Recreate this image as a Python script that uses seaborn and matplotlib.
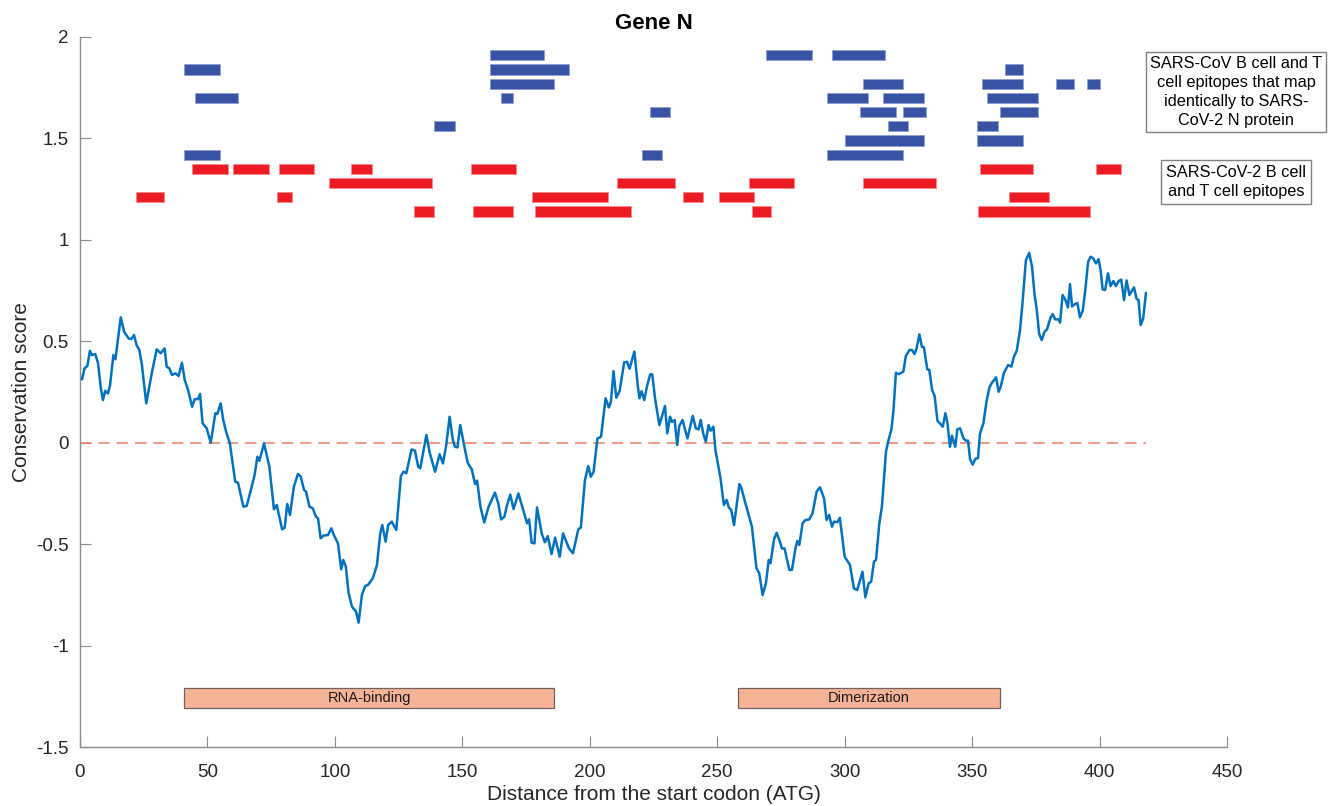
import numpy as np
import pandas as pd
import matplotlib
matplotlib.use("Agg")
import matplotlib.pyplot as plt
import seaborn as sns

# ---- conservation score along the N gene (residue position, score) ----
pos = [
    0.8, 1.8, 2.9, 3.9, 4.7, 6.0, 7.1, 8.1, 9.0, 9.9, 11.0, 11.8, 13.1, 13.9, 16.0, 17.3,
    19.1, 20.1, 21.2, 22.2, 23.3, 24.3, 26.0, 28.2, 30.1, 31.7, 33.2, 34.0, 35.0, 36.1,
    37.4, 38.7, 40.0, 41.1, 42.4, 44.0, 45.0, 46.3, 47.1, 48.1, 49.7, 51.3, 53.1, 53.9,
    55.2, 56.2, 57.5, 58.8, 60.9, 62.0, 64.1, 65.4, 67.2, 68.5, 69.6, 70.4, 72.2, 74.3,
    76.1, 77.2, 79.3, 80.3, 81.3, 82.4, 83.9, 85.5, 86.6, 87.9, 88.7, 90.0, 91.3, 92.6,
    93.4, 94.4, 95.5, 97.3, 98.6, 99.6, 101.2, 102.5, 103.3, 104.3, 105.4, 106.7, 108.3,
    109.3, 110.6, 111.9, 113.0, 114.9, 116.5, 117.8, 118.6, 119.9, 120.9, 122.3, 124.1,
    125.9, 126.9, 128.0, 130.1, 131.4, 132.7, 133.5, 135.9, 137.2, 139.3, 141.1, 142.4,
    143.7, 145.0, 146.3, 147.1, 148.1, 149.2, 150.8, 152.1, 153.7, 155.0, 155.8, 157.1,
    158.6, 160.2, 162.8, 164.1, 165.2, 166.5, 167.5, 168.8, 170.1, 172.0, 173.6, 175.4,
    176.2, 177.2, 178.3, 179.3, 181.2, 182.4, 183.5, 185.0, 186.4, 188.2, 189.5, 191.8,
    193.4, 195.5, 196.5, 198.1, 199.4, 200.4, 201.5, 203.0, 204.4, 206.2, 207.5, 208.3,
    209.3, 210.4, 211.7, 213.5, 214.6, 215.6, 217.5, 218.8, 219.5, 220.3, 221.4, 222.4,
    223.7, 224.5, 225.6, 227.3, 229.5, 230.4, 231.5, 232.2, 233.3, 234.3, 235.1, 236.4,
    238.3, 240.4, 241.6, 242.7, 243.5, 244.5, 245.5, 246.6, 247.4, 248.5, 249.3, 251.3,
    252.6, 253.7, 254.5, 255.5, 256.6, 258.7, 259.4, 261.0, 262.0, 263.6, 265.4, 266.5,
    267.8, 269.1, 270.2, 270.9, 272.3, 273.3, 274.6, 275.4, 276.4, 278.3, 279.3, 280.7,
    281.4, 282.2, 283.5, 284.6, 286.1, 287.4, 289.0, 290.3, 291.9, 292.9, 293.9, 295.0,
    295.8, 297.1, 298.1, 300.0, 302.1, 303.6, 304.9, 307.0, 308.1, 309.4, 310.4, 311.5,
    312.3, 313.6, 314.6, 316.2, 317.2, 318.3, 319.1, 320.1, 321.2, 323.0, 324.0, 325.4,
    326.4, 327.4, 328.2, 329.3, 330.3, 331.1, 332.4, 333.2, 334.3, 335.3, 336.4, 337.4,
    338.5, 339.5, 340.3, 341.3, 342.1, 343.4, 344.2, 345.3, 346.6, 347.6, 348.4, 349.2,
    350.2, 351.3, 352.3, 353.1, 354.4, 355.7, 356.8, 357.8, 359.4, 360.4, 361.2, 362.5,
    364.1, 365.4, 366.4, 367.5, 368.8, 369.8, 371.1, 372.4, 373.5, 374.5, 375.3, 376.3,
    377.3, 378.4, 379.4, 380.8, 381.6, 382.6, 383.9, 384.5, 385.5, 386.6, 387.6, 388.4,
    389.2, 390.5, 391.3, 392.3, 393.4, 394.4, 395.5, 396.5, 397.5, 398.6, 399.6, 400.4,
    401.2, 402.2, 403.3, 404.3, 405.4, 406.4, 407.5, 408.5, 409.6, 410.6, 411.7, 413.5,
    414.5, 415.3, 416.1, 417.1, 418.2,
]
score = [
    0.312, 0.367, 0.378, 0.453, 0.432, 0.437, 0.391, 0.276, 0.210, 0.256, 0.243, 0.284,
    0.432, 0.411, 0.618, 0.547, 0.514, 0.511, 0.531, 0.481, 0.457, 0.383, 0.194, 0.345,
    0.460, 0.441, 0.465, 0.375, 0.367, 0.334, 0.342, 0.329, 0.394, 0.309, 0.260, 0.177,
    0.215, 0.215, 0.240, 0.096, 0.071, 0.000, 0.145, 0.142, 0.194, 0.112, 0.046, -0.003,
    -0.192, -0.197, -0.315, -0.312, -0.225, -0.159, -0.069, -0.089, -0.003, -0.118,
    -0.328, -0.307, -0.427, -0.419, -0.302, -0.356, -0.217, -0.154, -0.167, -0.233,
    -0.241, -0.315, -0.323, -0.365, -0.373, -0.471, -0.458, -0.455, -0.422, -0.455,
    -0.496, -0.624, -0.578, -0.611, -0.742, -0.808, -0.833, -0.887, -0.751, -0.706,
    -0.701, -0.668, -0.603, -0.447, -0.406, -0.488, -0.406, -0.389, -0.430, -0.164,
    -0.143, -0.151, -0.033, -0.039, -0.118, -0.126, 0.038, -0.049, -0.143, -0.057,
    -0.102, -0.011, 0.128, 0.013, -0.020, -0.023, 0.087, -0.020, -0.099, -0.131, -0.204,
    -0.187, -0.315, -0.393, -0.319, -0.246, -0.299, -0.378, -0.365, -0.310, -0.256,
    -0.327, -0.250, -0.319, -0.397, -0.378, -0.493, -0.496, -0.319, -0.450, -0.491,
    -0.460, -0.549, -0.468, -0.562, -0.447, -0.520, -0.545, -0.427, -0.418, -0.184,
    -0.115, -0.168, -0.143, 0.021, 0.029, 0.219, 0.174, 0.202, 0.353, 0.222, 0.255,
    0.396, 0.399, 0.365, 0.449, 0.284, 0.219, 0.254, 0.210, 0.276, 0.337, 0.337, 0.219,
    0.087, 0.181, 0.046, 0.128, 0.103, 0.112, -0.011, 0.082, 0.112, 0.021, 0.132, 0.071,
    0.066, 0.112, 0.046, 0.005, 0.087, 0.059, 0.079, -0.036, -0.176, -0.307, -0.282,
    -0.318, -0.332, -0.406, -0.204, -0.220, -0.296, -0.340, -0.414, -0.619, -0.644,
    -0.751, -0.693, -0.578, -0.594, -0.476, -0.444, -0.488, -0.521, -0.521, -0.627,
    -0.627, -0.521, -0.484, -0.504, -0.397, -0.381, -0.378, -0.348, -0.241, -0.220,
    -0.274, -0.381, -0.356, -0.414, -0.389, -0.392, -0.370, -0.562, -0.603, -0.718,
    -0.726, -0.636, -0.762, -0.693, -0.685, -0.586, -0.578, -0.397, -0.315, -0.044,
    0.013, 0.063, 0.153, 0.345, 0.338, 0.350, 0.427, 0.457, 0.457, 0.437, 0.465, 0.534,
    0.473, 0.470, 0.362, 0.359, 0.260, 0.230, 0.108, 0.095, 0.079, 0.145, 0.099, -0.020,
    0.035, -0.020, 0.066, 0.071, 0.021, 0.010, 0.010, -0.082, -0.108, -0.079, -0.076,
    0.046, 0.095, 0.207, 0.273, 0.296, 0.322, 0.251, 0.275, 0.345, 0.383, 0.375, 0.424,
    0.453, 0.555, 0.695, 0.900, 0.936, 0.868, 0.728, 0.662, 0.536, 0.506, 0.547, 0.559,
    0.618, 0.634, 0.608, 0.608, 0.592, 0.728, 0.704, 0.667, 0.782, 0.672, 0.685, 0.688,
    0.618, 0.651, 0.753, 0.892, 0.917, 0.909, 0.884, 0.905, 0.851, 0.756, 0.753, 0.835,
    0.772, 0.797, 0.772, 0.797, 0.804, 0.703, 0.800, 0.728, 0.766, 0.710, 0.703, 0.580,
    0.612, 0.739,
]

# ---- SARS-CoV epitopes mapping identically to SARS-CoV-2 N (track level, start, end) ----
cov1_level = [1.91, 1.91, 1.91,
              1.84, 1.84, 1.84,
              1.77, 1.77, 1.77, 1.77, 1.77,
              1.70, 1.70, 1.70, 1.70, 1.70,
              1.63, 1.63, 1.63, 1.63,
              1.56, 1.56, 1.56,
              1.49, 1.49,
              1.42, 1.42, 1.42]
cov1_start = [161, 269, 295,
              41, 161, 363,
              161, 307, 354, 383, 395,
              45, 165, 293, 315, 356,
              223.5, 306, 323, 361,
              139, 317, 352,
              300, 352,
              41, 220.5, 293]
cov1_end = [182, 287, 316,
            55, 192, 370,
            186, 323, 370, 390, 400,
            62, 170, 309, 331, 376,
            231.5, 320, 332, 376,
            147, 325, 360,
            331, 370,
            55, 228.5, 323]

# ---- SARS-CoV-2 B cell and T cell epitopes ----
cov2_level = [1.35, 1.35, 1.35, 1.35, 1.35, 1.35, 1.35,
              1.28, 1.28, 1.28, 1.28,
              1.21, 1.21, 1.21, 1.21, 1.21, 1.21,
              1.14, 1.14, 1.14, 1.14, 1.14]
cov2_start = [44, 60, 78, 106.5, 153.5, 353, 398.5,
              97.5, 210.5, 262.5, 307,
              22, 77.3, 177.3, 236.4, 250.6, 364.3,
              131, 154.3, 178.4, 263.6, 352.4]
cov2_end = [58, 74, 92, 114.5, 171, 374, 408.5,
            138, 233.5, 280, 336,
            33, 83.3, 207.3, 244.4, 264.5, 380.3,
            139, 170, 216.3, 271, 396.2]

# ---- protein domains ----
domain_names = ["RNA-binding", "Dimerization"]
domain_start = [41, 258]
domain_end = [186, 361]
domain_level = -1.26

legend_cov1 = "SARS-CoV B cell and T\ncell epitopes that map\nidentically to SARS-\nCoV-2 N protein"
legend_cov2 = "SARS-CoV-2 B cell\nand T cell epitopes"

x_ticks = [0, 50, 100, 150, 200, 250, 300, 350, 400, 450]
y_ticks = [-1.5, -1, -0.5, 0, 0.5, 1, 1.5, 2]
y_tick_labels = ["-1.5", "-1", "-0.5", "0", "0.5", "1", "1.5", "2"]

sns.set_theme(style="white")
plt.rcParams["font.family"] = ["Liberation Sans", "DejaVu Sans"]
plt.rcParams["axes.unicode_minus"] = False

fig = plt.figure(figsize=(13.33, 8.06), dpi=100)
ax = fig.add_axes([0.0600, 0.0732, 0.8605, 0.8809])

df = pd.DataFrame({"pos": pos, "score": score})
sns.lineplot(data=df, x="pos", y="score", ax=ax, color="#0072BD",
             linewidth=1.8, sort=False, estimator=None, zorder=3)

# zero reference across the sequence span
ax.hlines(0, 0, pos[-1], colors="#EB7D62", linewidth=1.1,
          linestyles=(0, (7.5, 4.5)), zorder=2)

bar_h = 0.05
c1_start = np.array(cov1_start)
c1_end = np.array(cov1_end)
ax.barh(cov1_level, c1_end - c1_start, left=c1_start, height=bar_h,
        color="#3953A4", edgecolor="#8C9BD0", linewidth=0.5, zorder=3)
c2_start = np.array(cov2_start)
c2_end = np.array(cov2_end)
ax.barh(cov2_level, c2_end - c2_start, left=c2_start, height=bar_h,
        color="#ED1C24", edgecolor="#F4868A", linewidth=0.5, zorder=3)

d_start = np.array(domain_start)
d_end = np.array(domain_end)
ax.barh([domain_level] * len(domain_names), d_end - d_start, left=d_start,
        height=0.1, color="#F7B396", edgecolor="#6f625c", linewidth=0.9, zorder=3)
for name, s, e in zip(domain_names, d_start, d_end):
    ax.text((s + e) / 2, domain_level, name, ha="center", va="center",
            fontsize=10.5, color="#1a1a1a", zorder=4)

ax.set_xlim(0, 450)
ax.set_ylim(-1.5, 2)
ax.set_xticks(x_ticks)
ax.set_xticklabels([str(t) for t in x_ticks])
ax.set_yticks(y_ticks)
ax.set_yticklabels(y_tick_labels)

for side in ("top", "right"):
    ax.spines[side].set_visible(False)
for side in ("left", "bottom"):
    ax.spines[side].set_color("#8c8c8c")
    ax.spines[side].set_linewidth(1.0)
ax.tick_params(axis="both", which="major", direction="in", length=8, width=0.8,
               bottom=True, left=True, top=False, right=False,
               color="#8c8c8c", labelsize=13.5, labelcolor="#262626")
ax.tick_params(axis="x", pad=12)
ax.tick_params(axis="y", pad=8)
ax.grid(False)

ax.set_xlabel("Distance from the start codon (ATG)", fontsize=15, color="#262626", labelpad=3)
ax.set_ylabel("Conservation score", fontsize=15, color="#262626", labelpad=4)
ax.set_title("Gene N", fontsize=16, fontweight="bold", color="black", pad=6)

fig.text(0.9272, 0.8859, legend_cov1, ha="center", va="center", fontsize=11.7,
         linespacing=1.35, color="black",
         bbox=dict(boxstyle="square,pad=0.22", facecolor="white",
                   edgecolor="#808080", linewidth=1))
fig.text(0.9272, 0.7742, legend_cov2, ha="center", va="center", fontsize=11.7,
         linespacing=1.35, color="black",
         bbox=dict(boxstyle="square,pad=0.28", facecolor="white",
                   edgecolor="#808080", linewidth=1))

fig.savefig("out.png", dpi=100, facecolor="white")
